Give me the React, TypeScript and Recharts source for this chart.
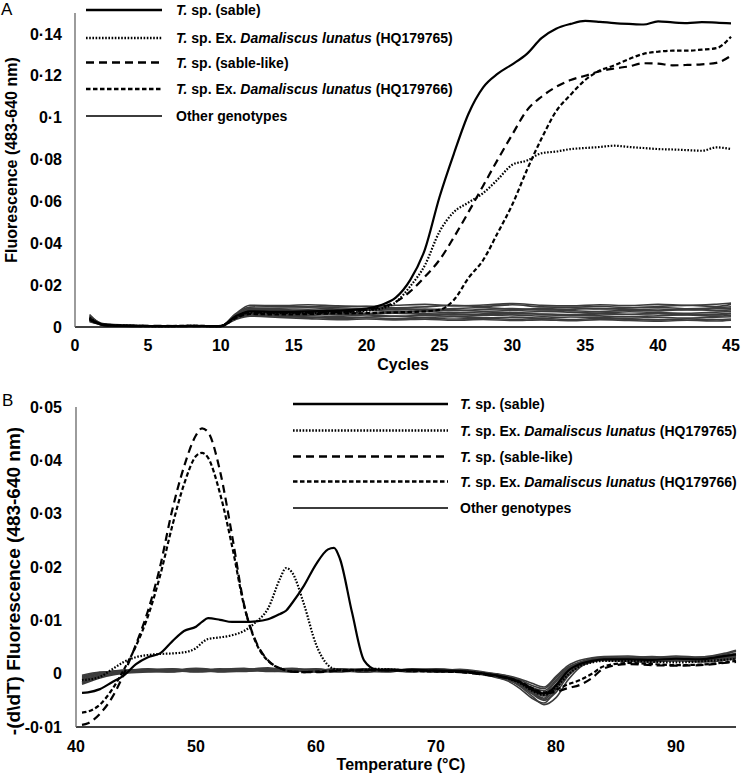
import React from "react";
import { LineChart, Line, XAxis, YAxis, Legend } from "recharts";

const FONT = '"Liberation Sans", Arial, Helvetica, sans-serif';

// legend text, shared by both panels: [text, italic]
const LEGEND_LABELS: [string, boolean][][] = [
  [["T.", true], [" sp. (sable)", false]],
  [["T.", true], [" sp. Ex. ", false], ["Damaliscus lunatus", true], [" (HQ179765)", false]],
  [["T.", true], [" sp. (sable-like)", false]],
  [["T.", true], [" sp. Ex. ", false], ["Damaliscus lunatus", true], [" (HQ179766)", false]],
  [["Other genotypes", false]],
];

// line styles in legend order: sable, HQ179765, sable-like, HQ179766, others
const STYLES = [
  { stroke: "#000", width: 2.2, dash: undefined as string | undefined },
  { stroke: "#000", width: 2.2, dash: "1.6 1.6" },
  { stroke: "#000", width: 2.2, dash: "8 5" },
  { stroke: "#000", width: 2.2, dash: "4.5 2.5" },
  { stroke: "#3c3c3c", width: 1.6, dash: undefined as string | undefined },
];

// ---------- A: amplification curves ----------
const A_X_TICKS = [0, 5, 10, 15, 20, 25, 30, 35, 40, 45];
const A_Y_TICKS = [0, 0.02, 0.04, 0.06, 0.08, 0.1, 0.12, 0.14];

const A_CYCLES = [1, 2, 4, 6, 8, 10, 11, 12, 14, 16, 18, 20, 21, 22, 23, 24, 25, 26, 27, 28, 29, 30,
  31, 32, 33, 34, 35, 36, 37, 38, 39, 40, 41, 42, 43, 44, 45];
const A_SABLE = [0.004, 0.001, 0.0005, 0.0004, 0.0005, 0.0004, 0.005, 0.0075, 0.0072, 0.0075, 0.0078, 0.0088,
  0.0105, 0.014, 0.0225, 0.037, 0.062, 0.083, 0.102, 0.1145, 0.121, 0.1255, 0.1305, 0.138, 0.1425, 0.1448,
  0.1462, 0.1458, 0.1452, 0.1448, 0.1445, 0.146, 0.1455, 0.1452, 0.1456, 0.1454, 0.145];
const A_HQ765 = [0.0045, 0.001, 0.0006, 0.0004, 0.0005, 0.0004, 0.0045, 0.0068, 0.0066, 0.0067, 0.007, 0.0078,
  0.0088, 0.0118, 0.0195, 0.0295, 0.0455, 0.055, 0.0595, 0.064, 0.0705, 0.0775, 0.0795, 0.083, 0.0838, 0.085,
  0.0855, 0.086, 0.0866, 0.086, 0.0855, 0.085, 0.0848, 0.0845, 0.0842, 0.0858, 0.085];
const A_SABLE_LIKE = [0.0035, 0.0009, 0.0005, 0.0005, 0.0004, 0.0005, 0.0048, 0.007, 0.0068, 0.007, 0.0072, 0.0082,
  0.0095, 0.012, 0.017, 0.024, 0.032, 0.043, 0.055, 0.0675, 0.08, 0.092, 0.1035, 0.11, 0.1147, 0.118,
  0.12, 0.1222, 0.1235, 0.1245, 0.126, 0.1258, 0.125, 0.1252, 0.1255, 0.1262, 0.1296];
const A_HQ766 = [0.004, 0.0012, 0.0005, 0.0004, 0.0006, 0.0004, 0.0042, 0.0062, 0.006, 0.0062, 0.0065, 0.0066,
  0.0068, 0.007, 0.0072, 0.0075, 0.0082, 0.013, 0.0235, 0.032, 0.045, 0.0585, 0.075, 0.09, 0.103, 0.111,
  0.118, 0.1225, 0.125, 0.128, 0.1305, 0.1315, 0.132, 0.132, 0.1325, 0.1332, 0.1387];

const A_OTHER_CYCLES = [1, 2, 4, 6, 8, 10, 11, 12, 14, 16, 18, 20, 22, 24, 26, 28, 30, 32, 34, 36, 38, 40, 42, 44, 45];
const A_OTHERS = [
  [0.006, 0.001, 0.0005, 0.0004, 0.0005, 0.0003, 0.006, 0.0095, 0.0098, 0.0097, 0.0095, 0.0098, 0.0092, 0.0096, 0.0104, 0.0098, 0.0106, 0.0096, 0.0094, 0.0099, 0.0092, 0.0098, 0.0104, 0.0098, 0.0108],
  [0.005, 0.0015, 0.0008, 0.0005, 0.0006, 0.0004, 0.0055, 0.0088, 0.009, 0.0092, 0.0086, 0.0084, 0.0089, 0.0082, 0.0088, 0.0093, 0.0085, 0.0088, 0.0092, 0.0086, 0.0091, 0.0094, 0.0087, 0.0092, 0.0096],
  [0.004, 0.0008, 0.0003, 0.0006, 0.0004, 0.0005, 0.005, 0.008, 0.0078, 0.0082, 0.0076, 0.008, 0.0074, 0.0079, 0.0082, 0.0075, 0.0079, 0.0083, 0.0078, 0.0074, 0.008, 0.0077, 0.0084, 0.0079, 0.0082],
  [0.0045, 0.001, 0.0006, 0.0003, 0.0007, 0.0004, 0.0048, 0.0074, 0.0071, 0.0069, 0.0072, 0.0066, 0.007, 0.0074, 0.0068, 0.0072, 0.0069, 0.0074, 0.0071, 0.0067, 0.0073, 0.0069, 0.0066, 0.0071, 0.0074],
  [0.003, 0.0012, 0.0004, 0.0005, 0.0003, 0.0006, 0.0045, 0.0068, 0.0065, 0.0063, 0.0058, 0.0062, 0.0066, 0.006, 0.0063, 0.0058, 0.0064, 0.0061, 0.0057, 0.0062, 0.006, 0.0064, 0.0059, 0.0062, 0.0065],
  [0.0055, 0.0009, 0.0005, 0.0004, 0.0005, 0.0003, 0.0042, 0.0064, 0.0058, 0.0055, 0.005, 0.0057, 0.0052, 0.0056, 0.0051, 0.0055, 0.0058, 0.0052, 0.0056, 0.0053, 0.0049, 0.0054, 0.0057, 0.0052, 0.0056],
  [0.0035, 0.0007, 0.0004, 0.0006, 0.0005, 0.0004, 0.004, 0.006, 0.0054, 0.0048, 0.0044, 0.0048, 0.0051, 0.0046, 0.0049, 0.0044, 0.0047, 0.0043, 0.0048, 0.0045, 0.0042, 0.0046, 0.0043, 0.0047, 0.0049],
  [0.0025, 0.0011, 0.0005, 0.0004, 0.0006, 0.0005, 0.0038, 0.0058, 0.0052, 0.0046, 0.0041, 0.0044, 0.004, 0.0043, 0.0038, 0.0042, 0.0037, 0.004, 0.0036, 0.0041, 0.0037, 0.0034, 0.0039, 0.0035, 0.0038],
  [0.004, 0.0006, 0.0003, 0.0005, 0.0004, 0.0004, 0.0052, 0.0085, 0.0084, 0.0079, 0.0084, 0.0088, 0.0082, 0.0086, 0.0078, 0.0084, 0.0088, 0.0081, 0.0085, 0.0089, 0.0083, 0.0086, 0.0081, 0.0087, 0.0089],
  [0.005, 0.0013, 0.0006, 0.0004, 0.0005, 0.0003, 0.0047, 0.007, 0.0064, 0.0059, 0.0066, 0.0062, 0.0068, 0.0064, 0.0058, 0.0063, 0.0067, 0.0062, 0.0059, 0.0065, 0.0061, 0.0066, 0.0062, 0.0058, 0.0064],
  [0.005, 0.0012, 0.0006, 0.0005, 0.0004, 0.0004, 0.0062, 0.0104, 0.0102, 0.0106, 0.0101, 0.0099, 0.0104, 0.0108, 0.0101, 0.0105, 0.0112, 0.0104, 0.0101, 0.0106, 0.0102, 0.0108, 0.0103, 0.0109, 0.0114],
  [0.003, 0.0008, 0.0004, 0.0006, 0.0005, 0.0005, 0.0035, 0.0052, 0.0046, 0.004, 0.0035, 0.0038, 0.0034, 0.0037, 0.0032, 0.0036, 0.0031, 0.0034, 0.003, 0.0035, 0.0031, 0.0028, 0.0032, 0.0029, 0.0033],
];

// ---------- B: melting curves ----------
const B_X_TICKS = [40, 50, 60, 70, 80, 90];
const B_Y_TICKS = [-0.01, 0, 0.01, 0.02, 0.03, 0.04, 0.05];

const B_TEMPS = [40.5, 41, 42, 43, 44, 45, 46, 47, 48, 49, 50, 50.5, 51, 52, 53, 54, 55, 56, 57, 57.5, 58, 59, 60,
  61, 61.5, 62, 63, 64, 65, 66, 68, 70, 72, 74, 76, 77, 78, 79, 80, 81, 82, 83, 84, 86, 88, 90, 92, 94, 95];
const B_SABLE = [-0.0036, -0.0035, -0.0029, -0.0016, -0.0003, 0.0018, 0.0031, 0.0038, 0.006, 0.008,
  0.0088, 0.0097, 0.0104, 0.0101, 0.0097, 0.0097, 0.0098, 0.0102, 0.0112, 0.0118,
  0.0132, 0.0165, 0.0205, 0.0233, 0.0236, 0.0215, 0.0115, 0.0025, 0.0008, 0.0006,
  0.0007, 0.0006, 0.0005, 0.0, -0.0008, -0.0016, -0.003, -0.0038, -0.0022, 0.0005, 0.0018, 0.0024, 0.0027,
  0.0027, 0.0026, 0.0028, 0.0027, 0.0033, 0.0036];
const B_HQ765 = [-0.0012, -0.0011, -0.0006, 0.0008, 0.0022, 0.0031, 0.0035, 0.0037, 0.0038, 0.004,
  0.0048, 0.0058, 0.0065, 0.0068, 0.0072, 0.008, 0.0097, 0.0122, 0.0178, 0.0198,
  0.019, 0.013, 0.0055, 0.0016, 0.0009, 0.0007, 0.0006, 0.0007, 0.0009, 0.0008,
  0.0006, 0.0005, 0.0004, 0.0, -0.0009, -0.0018, -0.0032, -0.004, -0.0026, -0.0002, 0.0014, 0.0021, 0.0024,
  0.0024, 0.0022, 0.0021, 0.0023, 0.0026, 0.0028];
const B_SABLE_LIKE = [-0.0096, -0.0093, -0.0075, -0.0045, 0.0, 0.0055, 0.0118, 0.02, 0.0305, 0.0388,
  0.0447, 0.046, 0.0453, 0.038, 0.026, 0.013, 0.006, 0.0025, 0.001, 0.0006,
  0.0004, 0.0003, 0.0003, 0.0004, 0.0005, 0.0005, 0.0006, 0.0007, 0.0007, 0.0006,
  0.0006, 0.0005, 0.0003, -0.0002, -0.0009, -0.0016, -0.0028, -0.0037, -0.0034, -0.0027, -0.0021, -0.0008, 0.001,
  0.0018, 0.0016, 0.0015, 0.0016, 0.002, 0.0022];
const B_HQ766 = [-0.0073, -0.0071, -0.0058, -0.003, 0.0008, 0.0052, 0.0108, 0.0183, 0.0275, 0.0355,
  0.0408, 0.0414, 0.0405, 0.0338, 0.024, 0.0128, 0.0058, 0.0024, 0.001, 0.0006,
  0.0004, 0.0003, 0.0004, 0.0005, 0.0006, 0.0006, 0.0007, 0.0006, 0.0006, 0.0007,
  0.0005, 0.0004, 0.0003, -0.0001, -0.0008, -0.0015, -0.0027, -0.0035, -0.003, -0.002, -0.0012, 0.0, 0.0014,
  0.002, 0.0018, 0.0016, 0.0017, 0.0021, 0.0024];

const B_OTHER_TEMPS = [40.5, 42, 44, 46, 48, 50, 52, 54, 56, 58, 60, 62, 64, 66, 68, 70, 72, 74,
  75, 76, 77, 78, 79, 80, 81, 82, 83, 84, 86, 88, 90, 92, 94, 95];
const B_OTHERS = [
  [-0.0005, 0.0002, 0.0006, 0.0008, 0.0005, 0.0009, 0.0006, 0.0004, 0.0008, 0.0005, 0.0003, 0.0007, 0.0005, 0.0009, 0.0006, 0.0004, 0.0006, 0.0001,
    -0.0002, -0.0006, -0.0012, -0.0022, -0.0028, -0.0008, 0.0012, 0.0022, 0.0028, 0.003, 0.0031, 0.0028, 0.003, 0.0027, 0.0034, 0.0038],
  [-0.0012, -0.0003, 0.0004, 0.0006, 0.0009, 0.0005, 0.0008, 0.001, 0.0004, 0.0007, 0.0009, 0.0004, 0.0008, 0.0005, 0.0009, 0.0007, 0.0003, -0.0002,
    -0.0006, -0.0012, -0.002, -0.0032, -0.0042, -0.0025, 0.0004, 0.0018, 0.0026, 0.0029, 0.0027, 0.003, 0.0026, 0.0029, 0.0031, 0.0033],
  [-0.0018, -0.0006, 0.0002, 0.0005, 0.0003, 0.0007, 0.0004, 0.0007, 0.0011, 0.0004, 0.0006, 0.0009, 0.0003, 0.0007, 0.0004, 0.0008, 0.0005, 0.0,
    -0.0004, -0.001, -0.0024, -0.0042, -0.0058, -0.0045, -0.0012, 0.0012, 0.0022, 0.0026, 0.0025, 0.0023, 0.0027, 0.0024, 0.0029, 0.0032],
  [-0.0008, 0.0, 0.0007, 0.0004, 0.0008, 0.0004, 0.0009, 0.0005, 0.0007, 0.001, 0.0005, 0.0006, 0.0009, 0.0004, 0.0007, 0.0005, 0.0008, 0.0003,
    0.0, -0.0005, -0.0015, -0.0028, -0.0036, -0.0015, 0.0008, 0.002, 0.0025, 0.0028, 0.003, 0.0032, 0.0029, 0.0031, 0.0036, 0.0042],
  [-0.0015, -0.0004, 0.0003, 0.0007, 0.0006, 0.0003, 0.0006, 0.0008, 0.0005, 0.0003, 0.0008, 0.0005, 0.0004, 0.0008, 0.0005, 0.0003, 0.0004, -0.0001,
    -0.0005, -0.0011, -0.0022, -0.0038, -0.005, -0.0035, -0.0005, 0.0015, 0.0024, 0.0027, 0.0026, 0.0025, 0.0024, 0.0026, 0.0027, 0.0029],
  [-0.0003, 0.0003, 0.0005, 0.0009, 0.0007, 0.0008, 0.0005, 0.0009, 0.0006, 0.0008, 0.0004, 0.0008, 0.0006, 0.0003, 0.0008, 0.0006, 0.0007, 0.0002,
    -0.0001, -0.0004, -0.001, -0.0018, -0.0025, -0.0005, 0.0015, 0.0025, 0.003, 0.0032, 0.0033, 0.003, 0.0033, 0.0031, 0.0038, 0.0044],
  [-0.002, -0.0008, 0.0001, 0.0003, 0.0004, 0.0006, 0.0003, 0.0005, 0.0009, 0.0006, 0.0004, 0.0003, 0.0007, 0.0006, 0.0003, 0.0006, 0.0004, -0.0002,
    -0.0007, -0.0014, -0.0028, -0.0046, -0.0055, -0.003, 0.0, 0.0016, 0.0023, 0.0025, 0.0023, 0.0022, 0.0025, 0.0022, 0.0025, 0.0028],
  [-0.001, -0.0002, 0.0005, 0.0005, 0.0006, 0.001, 0.0007, 0.0006, 0.0005, 0.0009, 0.0007, 0.0006, 0.0003, 0.0006, 0.0007, 0.0009, 0.0006, 0.0001,
    -0.0003, -0.0008, -0.0018, -0.0034, -0.0046, -0.002, 0.0006, 0.002, 0.0027, 0.0028, 0.0029, 0.0027, 0.0031, 0.0028, 0.0033, 0.0036],
  [-0.0016, -0.0005, 0.0003, 0.0006, 0.0008, 0.0006, 0.0007, 0.0009, 0.0007, 0.0005, 0.0007, 0.0006, 0.0004, 0.0005, 0.0006, 0.0005, 0.0003, -0.0001,
    -0.0005, -0.0009, -0.0016, -0.0026, -0.0032, -0.0012, 0.001, 0.0021, 0.0026, 0.0027, 0.0028, 0.0026, 0.0028, 0.0026, 0.003, 0.0034],
  [-0.0006, 0.0001, 0.0006, 0.0005, 0.0004, 0.0007, 0.0005, 0.0006, 0.0009, 0.0007, 0.0006, 0.0009, 0.0007, 0.0007, 0.0005, 0.0004, 0.0005, 0.0,
    -0.0004, -0.0009, -0.002, -0.0036, -0.0048, -0.0028, -0.0003, 0.0015, 0.0023, 0.0026, 0.0027, 0.0025, 0.0026, 0.0027, 0.0029, 0.0031],
];

const pts = (xs: number[], ys: number[]) => xs.map((x, i) => ({ x, y: ys[i] }));
// journal style decimal point: 0·02
const fmt = (v: number) => (v === 0 ? "0" : String(Number(v.toFixed(2))).replace(".", "·"));

const tickStyle = { fill: "#000", fontSize: 16, fontWeight: 700, fontFamily: FONT };

function LegendBlock({ lineLen, textX, rows }: { lineLen: number; textX: number; rows: number[] }) {
  return (
    <svg width={textX + 340} height={rows[rows.length - 1] + 14} style={{ display: "block", overflow: "visible" }}>
      {LEGEND_LABELS.map((parts, i) => {
        const y = rows[i];
        const s = STYLES[i];
        return (
          <g key={i}>
            <line x1={0} x2={lineLen} y1={y} y2={y} stroke={s.stroke} strokeWidth={s.width + 0.3} strokeDasharray={s.dash} />
            <text x={textX} y={y} dominantBaseline="central" fontSize={14} fontWeight={700} fontFamily={FONT}
              fill="#000" style={{ whiteSpace: "pre" }}>
              {parts.map(([t, it], j) => (
                <tspan key={j} fontStyle={it ? "italic" : "normal"}>{t}</tspan>
              ))}
            </text>
          </g>
        );
      })}
    </svg>
  );
}

function seriesLines(
  xs: number[],
  main: number[][],
  otherXs: number[],
  others: number[][],
  prefix: string
) {
  const g = STYLES[4];
  const out = others.map((ys, i) => (
    <Line key={`${prefix}o${i}`} data={pts(otherXs, ys)} dataKey="y" type="monotone" stroke={g.stroke}
      strokeWidth={g.width} dot={false} activeDot={false} isAnimationActive={false} legendType="none" />
  ));
  // draw in reverse so the sable curve ends on top
  [3, 2, 1, 0].forEach((k) => {
    const s = STYLES[k];
    out.push(
      <Line key={`${prefix}m${k}`} data={pts(xs, main[k])} dataKey="y" type="monotone" stroke={s.stroke}
        strokeWidth={s.width} strokeDasharray={s.dash} dot={false} activeDot={false}
        isAnimationActive={false} legendType="none" />
    );
  });
  return out;
}

const titleStyle = { fontSize: 16, fontWeight: 700, fontFamily: FONT, fill: "#000" };

export default function App() {
  return (
    <div style={{ position: "absolute", left: 0, top: 0, width: 742, height: 774, background: "#fff", fontFamily: FONT }}>
      <div style={{ position: "absolute", left: 1, top: 1, fontSize: 17, lineHeight: "17px" }}>A</div>
      <div style={{ position: "absolute", left: 2, top: 392, fontSize: 17, lineHeight: "17px" }}>B</div>

      <div style={{ position: "absolute", left: 0, top: 0 }}>
        <LineChart width={742} height={385} margin={{ top: 13, right: 11, bottom: 15, left: 25 }}>
          <XAxis type="number" dataKey="x" domain={[0, 45]} ticks={A_X_TICKS} interval={0}
            tick={tickStyle} tickLine={false} tickSize={0} tickMargin={13} height={43}
            axisLine={{ stroke: "#000", strokeWidth: 1.3 }}
            label={() => <text x={403} y={370} textAnchor="middle" {...titleStyle}>Cycles</text>} />
          <YAxis type="number" domain={[0, 0.15]} ticks={A_Y_TICKS} interval={0} tickFormatter={fmt}
            tick={tickStyle} tickLine={false} tickSize={0} tickMargin={13} width={50}
            axisLine={{ stroke: "#666", strokeWidth: 1.3 }}
            label={() => (
              <text x={11} y={160} transform="rotate(-90 11 160)" textAnchor="middle" dominantBaseline="central" {...titleStyle}>
                Fluorescence (483-640 nm)
              </text>
            )} />
          <Legend verticalAlign="middle" align="center" layout="horizontal"
            wrapperStyle={{ left: 86, top: 0, width: 470, height: 140 }}
            content={() => <LegendBlock lineLen={76} textX={90} rows={[10, 38, 62.5, 89, 116]} />} />
          {seriesLines(A_CYCLES, [A_SABLE, A_HQ765, A_SABLE_LIKE, A_HQ766], A_OTHER_CYCLES, A_OTHERS, "a")}
        </LineChart>
      </div>

      <div style={{ position: "absolute", left: 0, top: 385 }}>
        <LineChart width={742} height={389} margin={{ top: 22, right: 6, bottom: 3, left: 26 }}>
          <XAxis type="number" dataKey="x" domain={[40, 95]} ticks={B_X_TICKS} interval={0}
            tick={tickStyle} tickLine={false} tickSize={0} tickMargin={14} height={44}
            axisLine={{ stroke: "#000", strokeWidth: 1.3 }}
            label={() => <text x={401} y={385} textAnchor="middle" {...titleStyle}>Temperature (°C)</text>} />
          <YAxis type="number" domain={[-0.01, 0.05]} ticks={B_Y_TICKS} interval={0} tickFormatter={fmt}
            tick={tickStyle} tickLine={false} tickSize={0} tickMargin={14} width={50}
            axisLine={{ stroke: "#666", strokeWidth: 1.3 }}
            label={() => (
              <text x={13} y={196} transform="rotate(-90 13 196)" textAnchor="middle" dominantBaseline="central"
                {...titleStyle} fontSize={19}>
                -(d\dT) Fluorescence (483-640 nm)
              </text>
            )} />
          <Legend verticalAlign="middle" align="center" layout="horizontal"
            wrapperStyle={{ left: 293, top: 9, width: 450, height: 140 }}
            content={() => <LegendBlock lineLen={155} textX={167} rows={[10, 36.5, 62.5, 87.5, 114]} />} />
          {seriesLines(B_TEMPS, [B_SABLE, B_HQ765, B_SABLE_LIKE, B_HQ766], B_OTHER_TEMPS, B_OTHERS, "b")}
        </LineChart>
      </div>
    </div>
  );
}
